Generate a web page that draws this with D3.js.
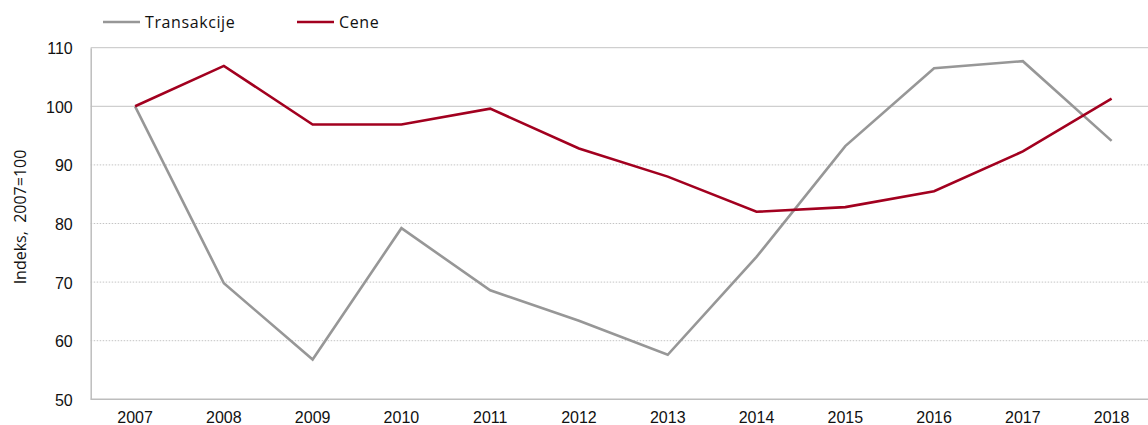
<!DOCTYPE html>
<html>
<head>
<meta charset="utf-8">
<script src="https://cdn.jsdelivr.net/npm/d3@7"></script>
<style>
  body { margin: 0; background: #fff; }
  svg { display: block; font-family: "Open Sans", "Noto Sans", sans-serif; }
</style>
</head>
<body>
<svg id="chart" width="1148" height="425"></svg>
<script>
// Index values, 2007 = 100
const years = ["2007","2008","2009","2010","2011","2012","2013","2014","2015","2016","2017","2018"];
const transakcije = [100, 69.8, 56.8, 79.2, 68.6, 63.4, 57.6, 74.3, 93.2, 106.5, 107.7, 94.1];
const cene = [100, 106.9, 96.9, 96.9, 99.6, 92.8, 88.0, 82.0, 82.8, 85.5, 92.3, 101.3];
const yTicks = [50, 60, 70, 80, 90, 100, 110];
const seriesNames = ["Transakcije", "Cene"];

const svg = d3.select("#chart");
const plotLeft = 90.7, plotRight = 1156, plotTop = 47.7, plotBottom = 399.3;

const x = d3.scaleBand().domain(years).range([plotLeft, plotRight]);
const y = d3.scaleLinear().domain([50, 110]).range([plotBottom, plotTop]);

// Gridlines
svg.append("g").selectAll("line")
  .data(yTicks.filter(d => d > 50))
  .join("line")
  .attr("x1", plotLeft).attr("x2", 1148)
  .attr("y1", d => y(d)).attr("y2", d => y(d))
  .attr("stroke", "#c4c4c4")
  .attr("stroke-width", 1)
  .attr("stroke-dasharray", d => (d >= 100 ? null : "1.5,1.5"));

// Y axis
const yAxis = svg.append("g")
  .attr("transform", `translate(${plotLeft},0)`)
  .call(d3.axisLeft(y).tickValues(yTicks).tickSize(0).tickPadding(18));
yAxis.select(".domain").attr("stroke", "#bdbdbd").attr("stroke-width", 1.5);
yAxis.selectAll("text").attr("font-size", 16).attr("fill", "#111").attr("dy", "0.38em");

// X axis
const xAxis = svg.append("g")
  .attr("transform", `translate(0,${plotBottom})`)
  .call(d3.axisBottom(x).tickSize(0).tickPadding(12));
xAxis.select(".domain").attr("d", `M${plotLeft},0H1148`).attr("stroke", "#bdbdbd").attr("stroke-width", 1.5);
xAxis.selectAll("text").attr("font-size", 16).attr("fill", "#111");

// Y axis title
svg.append("text")
  .attr("transform", `translate(26,217) rotate(-90)`)
  .attr("text-anchor", "middle")
  .attr("font-size", 16)
  .attr("fill", "#111")
  .attr("xml:space", "preserve")
  .text("Indeks,  2007=100");

// Lines
const line = d3.line()
  .x((d, i) => x(years[i]) + x.bandwidth() / 2)
  .y(d => y(d));

const colors = ["#979797", "#a2001f"];
[transakcije, cene].forEach((vals, k) => {
  svg.append("path")
    .datum(vals)
    .attr("fill", "none")
    .attr("stroke", colors[k])
    .attr("stroke-width", 2.6)
    .attr("stroke-linejoin", "miter")
    .attr("d", line);
});

// Legend
const legendX = [103, 297];
seriesNames.forEach((name, k) => {
  const g = svg.append("g").attr("transform", `translate(${legendX[k]},22)`);
  g.append("line").attr("x1", 0).attr("x2", 37).attr("y1", 0).attr("y2", 0)
    .attr("stroke", colors[k]).attr("stroke-width", 2.6);
  g.append("text").attr("x", 42).attr("y", 6)
    .attr("font-size", 16).attr("letter-spacing", 0.6)
    .attr("fill", "#111").text(name);
});
</script>
</body>
</html>
